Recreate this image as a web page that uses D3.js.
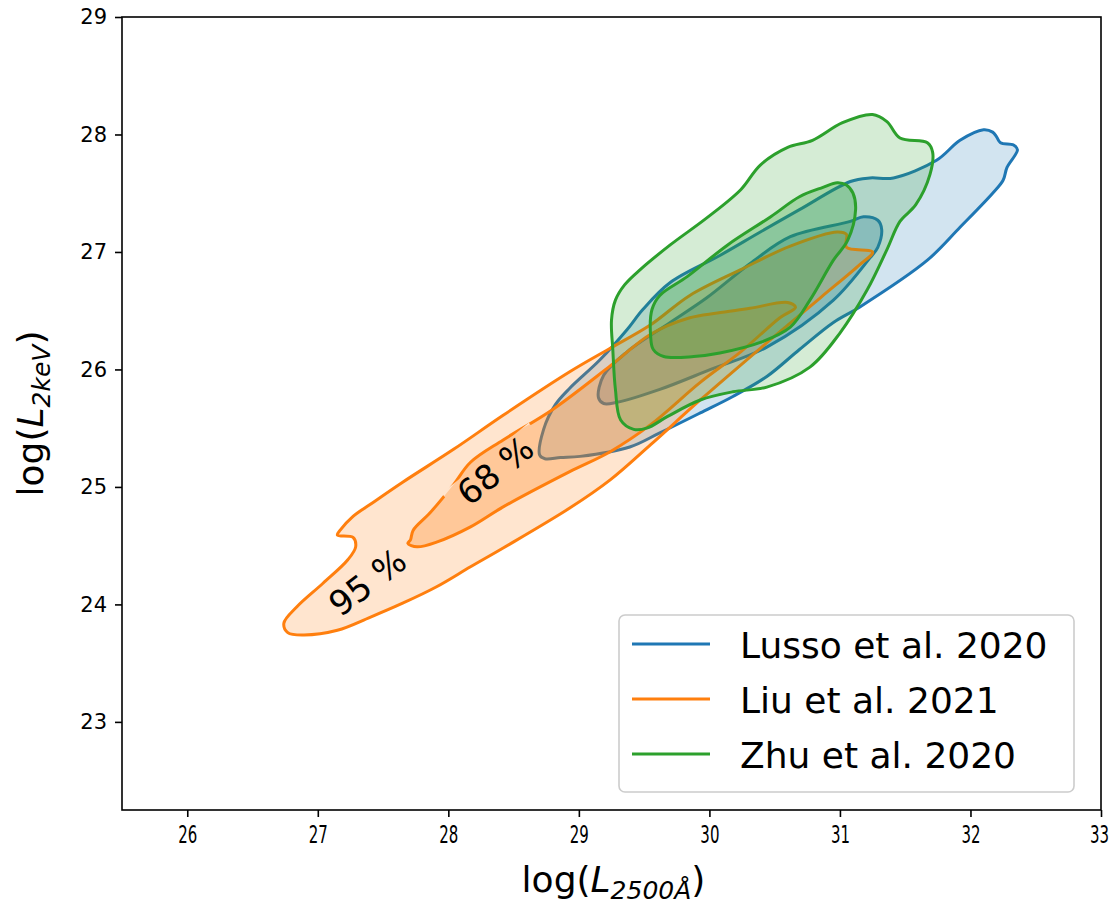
<!DOCTYPE html>
<html>
<head>
<meta charset="utf-8">
<script src="https://cdn.jsdelivr.net/npm/d3@7"></script>
<style>
	body { margin: 0; background: #fff; }
	text { font-family: "DejaVu Sans", sans-serif; fill: #000; }
</style>
</head>
<body>
<div id="chart"></div>
<script>
// contour outlines, [log L2500, log L2keV]
const lusso95 = [[28.70,25.27],[28.73,25.49],[28.82,25.70],[28.93,25.84],[29.16,26.08],[29.37,26.34],[29.49,26.51],[29.70,26.74],[30.08,26.97],[30.39,27.17],[30.69,27.36],[31.08,27.60],[31.23,27.63],[31.41,27.63],[31.74,27.78],[31.92,27.95],[32.10,28.04],[32.17,28.02],[32.20,27.98],[32.23,27.93],[32.33,27.91],[32.36,27.87],[32.28,27.72],[32.25,27.61],[32.17,27.50],[31.92,27.21],[31.67,26.93],[31.15,26.53],[30.95,26.40],[30.69,26.17],[30.44,25.94],[30.18,25.77],[29.93,25.63],[29.62,25.46],[29.39,25.34],[29.01,25.26],[28.86,25.25],[28.74,25.24]];
const lusso68 = [[29.15,25.76],[29.19,25.95],[29.37,26.15],[29.70,26.40],[29.98,26.61],[30.31,26.90],[30.62,27.13],[31.08,27.26],[31.18,27.30],[31.29,27.27],[31.32,27.19],[31.29,27.04],[31.23,26.95],[30.95,26.59],[30.44,26.19],[30.01,26.00],[29.62,25.83],[29.29,25.72],[29.19,25.71]];
const liu95 = [[26.74,23.84],[26.84,23.98],[27.04,24.18],[27.23,24.38],[27.29,24.49],[27.27,24.57],[27.15,24.59],[27.17,24.63],[27.27,24.75],[27.40,24.85],[27.65,25.04],[28.04,25.32],[28.42,25.61],[28.93,25.98],[29.24,26.18],[29.55,26.38],[29.85,26.63],[30.24,26.85],[30.62,27.05],[30.98,27.17],[31.05,27.15],[31.05,27.04],[31.25,27.00],[31.15,26.89],[30.85,26.61],[30.39,26.18],[29.93,25.74],[29.55,25.36],[29.24,25.06],[28.93,24.82],[28.42,24.48],[28.17,24.32],[27.91,24.15],[27.65,24.01],[27.40,23.89],[27.15,23.78],[26.89,23.74],[26.77,23.76]];
const liu68 = [[27.71,24.55],[27.73,24.63],[27.86,24.78],[28.04,25.02],[28.17,25.21],[28.42,25.40],[28.80,25.66],[29.24,26.03],[29.55,26.30],[29.85,26.44],[30.06,26.48],[30.31,26.52],[30.60,26.57],[30.66,26.53],[30.54,26.44],[30.24,26.15],[29.93,25.89],[29.55,25.53],[29.24,25.30],[28.93,25.13],[28.42,24.83],[28.17,24.66],[27.91,24.53],[27.76,24.49],[27.69,24.52]];
const zhu95 = [[29.26,26.17],[29.25,26.42],[29.28,26.59],[29.35,26.72],[29.47,26.85],[29.70,27.06],[29.98,27.29],[30.24,27.53],[30.39,27.74],[30.60,27.89],[30.79,27.95],[31.02,28.10],[31.25,28.17],[31.36,28.11],[31.46,27.97],[31.67,27.93],[31.71,27.85],[31.69,27.66],[31.58,27.40],[31.46,27.26],[31.36,27.02],[31.21,26.68],[31.00,26.31],[30.77,26.02],[30.44,25.85],[30.18,25.81],[29.93,25.74],[29.68,25.60],[29.52,25.50],[29.42,25.49],[29.32,25.57],[29.28,25.83]];
const zhu68 = [[29.55,26.28],[29.56,26.51],[29.62,26.63],[29.83,26.79],[30.14,27.06],[30.47,27.30],[30.69,27.47],[30.87,27.55],[30.98,27.59],[31.05,27.57],[31.10,27.50],[31.12,27.36],[31.06,27.10],[30.95,26.93],[30.77,26.59],[30.62,26.36],[30.39,26.23],[30.08,26.14],[29.88,26.11],[29.65,26.11],[29.57,26.17]];

const seriesNames = ['Lusso et al. 2020', 'Liu et al. 2021', 'Zhu et al. 2020'];
const seriesColors = ['#1f77b4', '#ff7f0e', '#2ca02c'];
const seriesLevels = [[lusso95, lusso68], [liu95, liu68], [zhu95, zhu68]];

const xTicks = [26, 27, 28, 29, 30, 31, 32, 33];
const yTicks = [23, 24, 25, 26, 27, 28, 29];

// level labels on the Liu contours
const levelLabels = ['95 %', '68 %'];
const levelLabelPos = [[27.38, 24.19], [28.36, 25.14]];
const levelLabelAngle = [-37, -39];

(() => {
	const margin = { top: 17, right: 8, bottom: 97, left: 122 };
	const width = 979;
	const height = 793;

	const svg = d3.select('#chart').append('svg')
		.attr('width', width + margin.left + margin.right)
		.attr('height', height + margin.top + margin.bottom);
	const chart = svg.append('g')
		.attr('transform', `translate(${margin.left}, ${margin.top})`);

	const x = d3.scaleLinear().domain([25.5, 33]).range([0, width]);
	const y = d3.scaleLinear().domain([22.25, 29]).range([height, 0]);

	const defs = svg.append('defs');
	defs.append('clipPath').attr('id', 'plot-clip')
		.append('rect').attr('width', width).attr('height', height);

	// gap in the 68 % line under its label
	const mask = defs.append('mask').attr('id', 'label-gap')
		.attr('maskUnits', 'userSpaceOnUse')
		.attr('x', 0).attr('y', 0).attr('width', width).attr('height', height);
	mask.append('rect').attr('width', width).attr('height', height).attr('fill', 'white');
	mask.append('rect')
		.attr('x', -56).attr('y', -16).attr('width', 112).attr('height', 32)
		.attr('fill', 'black')
		.attr('transform', `translate(${x(levelLabelPos[1][0])}, ${y(levelLabelPos[1][1])}) rotate(${levelLabelAngle[1]})`);

	const line = d3.line()
		.x(d => x(d[0]))
		.y(d => y(d[1]))
		.curve(d3.curveCatmullRomClosed.alpha(0.5));

	const plot = chart.append('g').attr('clip-path', 'url(#plot-clip)');
	const fillAlpha = [0.2, 0.28];

	seriesLevels.forEach((levels, i) => {
		const g = plot.append('g').attr('class', 'series series-' + i);
		levels.forEach((pts, j) => {
			g.append('path')
				.attr('d', line(pts))
				.attr('fill', seriesColors[i])
				.attr('fill-opacity', fillAlpha[j])
				.attr('stroke', 'none');
		});
		levels.forEach((pts, j) => {
			const p = g.append('path')
				.attr('d', line(pts))
				.attr('fill', 'none')
				.attr('stroke', seriesColors[i])
				.attr('stroke-width', 3)
				.attr('stroke-linejoin', 'round');
			if (i === 1 && j === 1) p.attr('mask', 'url(#label-gap)');
		});
	});

	// level labels
	chart.selectAll('.level-label')
		.data(levelLabels)
		.enter().append('text')
			.attr('class', 'level-label')
			.attr('text-anchor', 'middle')
			.attr('dominant-baseline', 'central')
			.attr('font-size', 34)
			.attr('transform', (d, i) => `translate(${x(levelLabelPos[i][0])}, ${y(levelLabelPos[i][1])}) rotate(${levelLabelAngle[i]})`)
			.text(d => d);

	// axes
	const xAxis = d3.axisBottom(x).tickValues(xTicks).tickSize(7).tickPadding(6).tickFormat(d3.format('d'));
	const yAxis = d3.axisLeft(y).tickValues(yTicks).tickSize(7).tickPadding(8).tickFormat(d3.format('d'));
	const xg = chart.append('g').attr('transform', `translate(0, ${height})`).call(xAxis);
	const yg = chart.append('g').call(yAxis);
	[xg, yg].forEach(g => {
		g.select('.domain').remove();
		g.attr('font-family', '"DejaVu Sans", sans-serif');
		g.selectAll('.tick line').attr('stroke', '#000').attr('stroke-width', 1.6);
		g.selectAll('.tick text').attr('fill', '#000');
	});
	yg.selectAll('.tick text').attr('font-size', 21);
	// x tick labels are narrow and tall in the original
	xg.selectAll('.tick text')
		.attr('font-size', 25)
		.attr('dy', null)
		.attr('y', 0)
		.attr('transform', (d, i) => `translate(${i === xTicks.length - 1 ? -2 : 0}, 33) scale(0.6, 1)`);

	// frame
	chart.append('rect')
		.attr('width', width).attr('height', height)
		.attr('fill', 'none').attr('stroke', '#000').attr('stroke-width', 1.6);

	// axis titles
	const xTitle = chart.append('text')
		.attr('x', width / 2 + 2).attr('y', height + 82)
		.attr('text-anchor', 'middle').attr('font-size', 36);
	xTitle.append('tspan').text('log(');
	xTitle.append('tspan').attr('font-style', 'italic').text('L');
	xTitle.append('tspan').attr('font-style', 'italic').attr('font-size', 25).attr('dy', 7).text('2500Å');
	xTitle.append('tspan').attr('dy', -7).text(')');

	const yTitle = chart.append('text')
		.attr('transform', `translate(${43 - margin.left}, ${height / 2}) rotate(-90)`)
		.attr('text-anchor', 'middle').attr('font-size', 36);
	yTitle.append('tspan').text('log(');
	yTitle.append('tspan').attr('font-style', 'italic').text('L');
	yTitle.append('tspan').attr('font-style', 'italic').attr('font-size', 25).attr('dy', 7).text('2keV');
	yTitle.append('tspan').attr('dy', -7).text(')');

	// legend
	const legend = chart.append('g')
		.attr('transform', `translate(${619 - margin.left}, ${615 - margin.top})`);
	legend.append('rect')
		.attr('width', 455).attr('height', 177)
		.attr('rx', 6).attr('ry', 6)
		.attr('fill', '#fff').attr('fill-opacity', 0.8)
		.attr('stroke', '#ccc').attr('stroke-width', 1.6);
	const item = legend.selectAll('.legend-item')
		.data(seriesNames)
		.enter().append('g')
			.attr('class', 'legend-item')
			.attr('transform', (d, i) => `translate(0, ${29 + i * 55})`);
	item.append('line')
		.attr('x1', 13).attr('x2', 91)
		.attr('stroke', (d, i) => seriesColors[i])
		.attr('stroke-width', 3);
	item.append('text')
		.attr('x', 121).attr('y', 14)
		.attr('font-size', 36)
		.text(d => d);
})();
</script>
</body>
</html>
